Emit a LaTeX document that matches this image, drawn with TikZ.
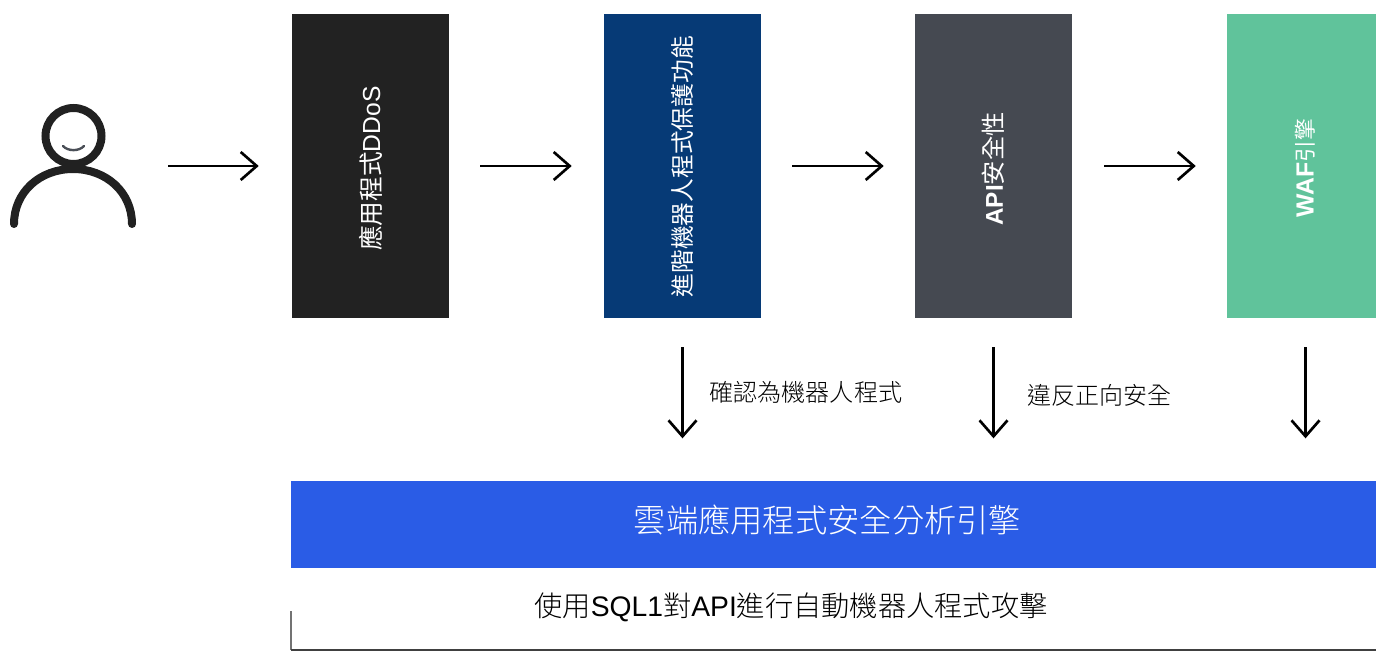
\documentclass[tikz,border=0pt]{standalone}
\usepackage{fontspec}
\setmainfont{Liberation Sans}
\newfontfamily\cjk{Noto Sans CJK TC}
\newfontfamily\cjkl{Noto Sans CJK TC Light}
\usetikzlibrary{arrows.meta,calc}
\newcommand{\fs}[1]{\fontsize{#1}{#1}\selectfont}
\newcommand{\upr}[2]{\rotatebox{90}{\raisebox{1.5pt}{#2}\hspace*{#1}}}
\tikzset{
  x=0.75pt,y=-0.75pt,
  stage/.style={inner sep=0pt,minimum width=117.75pt,minimum height=228pt,text=white},
  flow/.style={draw=black,line width=1.6pt,-{Straight Barb[length=12pt,width=21pt,line width=2pt]}},
  figure/.style={draw=#1,line cap=round,line width=6pt},
}
\begin{document}
\begin{tikzpicture}
\clip (0,0) rectangle (1376,652);
\fill[white] (0,0) rectangle (1376,652);
% person
\draw[figure=black!87] (73.5,136) circle (28);
\draw[figure=black!87] (14,224) .. controls (14,192) and (40,169) .. (73,169) .. controls (106,169) and (132,192) .. (132,224);
\draw[draw={rgb,255:red,74;green,79;blue,87},line cap=round,line width=1.8pt] (63,146) .. controls (68,151.5) and (79,151.5) .. (84,146);
\coordinate (pa) at (168,166);
% stages
\node[stage,fill={rgb,255:red,34;green,34;blue,34}] (s1) at (370.5,166) {\upr{3.75pt}{\fs{18.5}{\cjk 應用程式}DDoS}};
\node[stage,fill={rgb,255:red,6;green,58;blue,118}] (s2) at (682.5,166) {\upr{1pt}{\fs{17.8}\cjk 進階機器人程式保護功能}};
\node[stage,fill={rgb,255:red,69;green,73;blue,81}] (s3) at (993.5,166) {\upr{4.5pt}{\fs{18.2}\bfseries API{\mdseries\cjk 安全性}}};
\node[stage,fill={rgb,255:red,96;green,195;blue,155}] (s4) at (1305.5,166) {\upr{3pt}{\fs{18.6}\bfseries WAF{\mdseries\cjk\fs{16.3}引擎}}};
% engine
\node[inner sep=0pt,minimum width=819pt,minimum height=65.25pt,anchor=north west,fill={rgb,255:red,42;green,92;blue,230}] (bar) at (291,481) {};
\node[text=white,inner sep=0pt] (bart) at (827.5,520) {\fs{24.2}\cjkl 雲端應用程式安全分析引擎};
\node[inner sep=0pt] (bot) at (791,607.5) {\fs{21.2}{\cjkl 使用}SQL1{\cjkl 對}API{\cjkl 進行自動機器人程式攻擊}};
\draw[black!55,line width=0.9pt] (291,611) -- (291,650);
\draw[black!75,line width=0.9pt] (291,650) -- (1376,650);
% arrows
\draw[flow] (pa) -- ($(s1.west)+(-33,0)$);
\draw[flow,shorten <=23.25pt,shorten >=24pt] (s1.east) -- (s2.west);
\draw[flow,shorten <=23.25pt,shorten >=23.25pt] (s2.east) -- (s3.west);
\draw[flow,shorten <=24pt,shorten >=23.25pt] (s3.east) -- (s4.west);
\draw[flow,xshift=-0.75pt,shorten <=21.75pt,shorten >=32pt] (s2.south) -- (s2.south |- bar.north);
\foreach \n in {s3,s4}{
  \draw[flow,shorten <=21.75pt,shorten >=32pt] (\n.south) -- (\n.south |- bar.north);
}
\node[inner sep=0pt,anchor=west] (l1) at (709,392) {\fs{18.1}\cjkl 確認為機器人程式};
\node[inner sep=0pt,anchor=west] (l2) at (1027,395) {\fs{18}\cjkl 違反正向安全};
\end{tikzpicture}
\end{document}
